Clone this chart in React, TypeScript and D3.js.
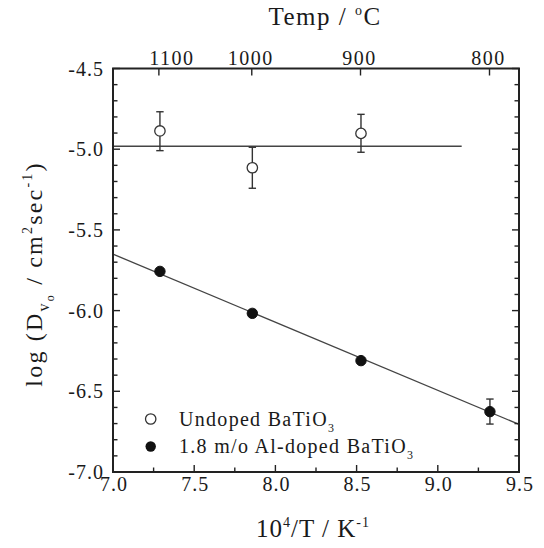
import React from "react";
import * as d3 from "d3";

// data (x = 10^4/T in K^-1, y = log D)
const undopedX = [7.289, 7.858, 8.527];
const undopedY = [-4.887, -5.115, -4.902];
const undopedErrHi = [-4.768, -4.988, -4.784];
const undopedErrLo = [-5.009, -5.242, -5.019];
const undopedFitX = [7.0, 9.147];
const undopedFitY = [-4.982, -4.982];

const dopedX = [7.289, 7.858, 8.527, 9.321];
const dopedY = [-5.757, -6.017, -6.31, -6.626];
const dopedErrHi = [-5.742, -5.997, -6.294, -6.548];
const dopedErrLo = [-5.772, -6.037, -6.326, -6.703];
const dopedFitX = [7.0, 9.5];
const dopedFitY = [-5.65, -6.705];

const xTicks = [7.0, 7.5, 8.0, 8.5, 9.0, 9.5];
const yTicks = [-4.5, -5.0, -5.5, -6.0, -6.5, -7.0];
const tempTicks = [1100, 1000, 900, 800];

const W = 544, H = 548;
const L = 113, R = 519, T = 68.5, B = 472;
const FONT = "'Liberation Serif', 'Times New Roman', serif";

export default function App() {
  const x = d3.scaleLinear().domain([7.0, 9.5]).range([L, R]);
  const y = d3.scaleLinear().domain([-7.0, -4.5]).range([B, T]);
  const line = d3.line<[number, number]>().x(d => x(d[0])).y(d => y(d[1]));
  const xMinor = d3.range(7.0, 9.5001, 0.25);
  const yMinor = d3.range(-7.0, -4.4999, 0.1);
  const tempX = (t: number) => x(1e4 / (t + 273.15));
  const axisColor = "#222";
  const lineColor = "#444";
  const isMajor = (v: number) => Math.abs(v * 2 - Math.round(v * 2)) < 1e-6;

  const errBar = (xv: number, hi: number, lo: number, key: string) => (
    <g key={key} stroke="#333" strokeWidth={1.4}>
      <line x1={x(xv)} x2={x(xv)} y1={y(hi)} y2={y(lo)} />
      <line x1={x(xv) - 3.7} x2={x(xv) + 3.7} y1={y(hi)} y2={y(hi)} />
      <line x1={x(xv) - 3.7} x2={x(xv) + 3.7} y1={y(lo)} y2={y(lo)} />
    </g>
  );

  const txt = { fontFamily: FONT, fill: "#1a1a1a" } as const;

  return (
    <svg width={W} height={H} style={{ position: "absolute", left: 0, top: 0, background: "#fff" }}>
      <rect x={0} y={0} width={W} height={H} fill="#fff" />
      {/* fit lines */}
      <path d={line(undopedFitX.map((v, i) => [v, undopedFitY[i]]) as any) || ""} stroke={lineColor} strokeWidth={1.4} fill="none" />
      <path d={line(dopedFitX.map((v, i) => [v, dopedFitY[i]]) as any) || ""} stroke={lineColor} strokeWidth={1.3} fill="none" />

      {/* error bars */}
      {undopedX.map((v, i) => errBar(v, undopedErrHi[i], undopedErrLo[i], "ue" + i))}
      {dopedX.map((v, i) => errBar(v, dopedErrHi[i], dopedErrLo[i], "de" + i))}

      {/* markers */}
      {undopedX.map((v, i) => (
        <circle key={"u" + i} cx={x(v)} cy={y(undopedY[i])} r={5.2} fill="#fff" stroke="#333" strokeWidth={1.3} />
      ))}
      {dopedX.map((v, i) => (
        <circle key={"d" + i} cx={x(v)} cy={y(dopedY[i])} r={5.2} fill="#111" stroke="#111" strokeWidth={1} />
      ))}

      {/* frame */}
      <rect x={L} y={T} width={R - L} height={B - T} fill="none" stroke={axisColor} strokeWidth={2} />

      {/* y ticks (left & right, inward) */}
      {yMinor.map((v, i) => {
        const len = isMajor(v) ? 7 : 4.5;
        return (
          <g key={"yt" + i} stroke={axisColor} strokeWidth={1.4}>
            <line x1={L} x2={L + len} y1={y(v)} y2={y(v)} />
            <line x1={R} x2={R - len} y1={y(v)} y2={y(v)} />
          </g>
        );
      })}
      {/* x ticks bottom, inward */}
      {xMinor.map((v, i) => {
        const len = isMajor(v) ? 7 : 4.5;
        return <line key={"xt" + i} x1={x(v)} x2={x(v)} y1={B} y2={B - len} stroke={axisColor} strokeWidth={1.4} />;
      })}
      {/* top temperature ticks */}
      {tempTicks.map((t, i) => (
        <line key={"tt" + i} x1={tempX(t)} x2={tempX(t)} y1={T} y2={T + 7} stroke={axisColor} strokeWidth={1.4} />
      ))}

      {/* tick labels */}
      {yTicks.map((v, i) => (
        <text key={"yl" + i} {...txt} x={L - 9} y={y(v) + 7} textAnchor="end" fontSize={20} letterSpacing={1}>
          {v.toFixed(1)}
        </text>
      ))}
      {xTicks.map((v, i) => (
        <text key={"xl" + i} {...txt} x={x(v) + 1} y={B + 19} textAnchor="middle" fontSize={20} letterSpacing={1}>
          {v.toFixed(1)}
        </text>
      ))}
      {tempTicks.map((t, i) => (
        <text key={"tl" + i} {...txt} x={tempX(t) + (i === 0 ? 13 : -1)} y={T - 4} textAnchor="middle" fontSize={20} letterSpacing={1.5}>
          {t}
        </text>
      ))}

      {/* axis titles */}
      <text {...txt} x={325} y={25} textAnchor="middle" fontSize={25} letterSpacing={1.5}>
        Temp / <tspan dy={-10} fontSize={14}>o</tspan><tspan dy={10}>C</tspan>
      </text>
      <text {...txt} x={313} y={537} textAnchor="middle" fontSize={25} letterSpacing={1}>
        10<tspan dy={-10} fontSize={14}>4</tspan><tspan dy={10}>/T / K</tspan><tspan dy={-10} fontSize={14}>-1</tspan>
      </text>
      <text {...txt} transform={`translate(42,274) rotate(-90)`} textAnchor="middle" fontSize={24} letterSpacing={2.2}>
        log (D<tspan dy={7} fontSize={16}>v</tspan><tspan dy={5} fontSize={12}>o</tspan>
        <tspan dy={-12}> / cm</tspan><tspan dy={-10} fontSize={14}>2</tspan><tspan dy={10}>sec</tspan>
        <tspan dy={-10} fontSize={14}>-1</tspan><tspan dy={10}>)</tspan>
      </text>

      {/* legend */}
      <circle cx={150.7} cy={419} r={5.2} fill="#fff" stroke="#333" strokeWidth={1.3} />
      <text {...txt} x={179} y={426} fontSize={20} letterSpacing={1.3}>
        Undoped BaTiO<tspan dy={6} fontSize={12}>3</tspan>
      </text>
      <circle cx={150.7} cy={446.5} r={5.2} fill="#111" />
      <text {...txt} x={179} y={453} fontSize={20} letterSpacing={1.3}>
        1.8 m/o Al-doped BaTiO<tspan dy={6} fontSize={12}>3</tspan>
      </text>
    </svg>
  );
}
